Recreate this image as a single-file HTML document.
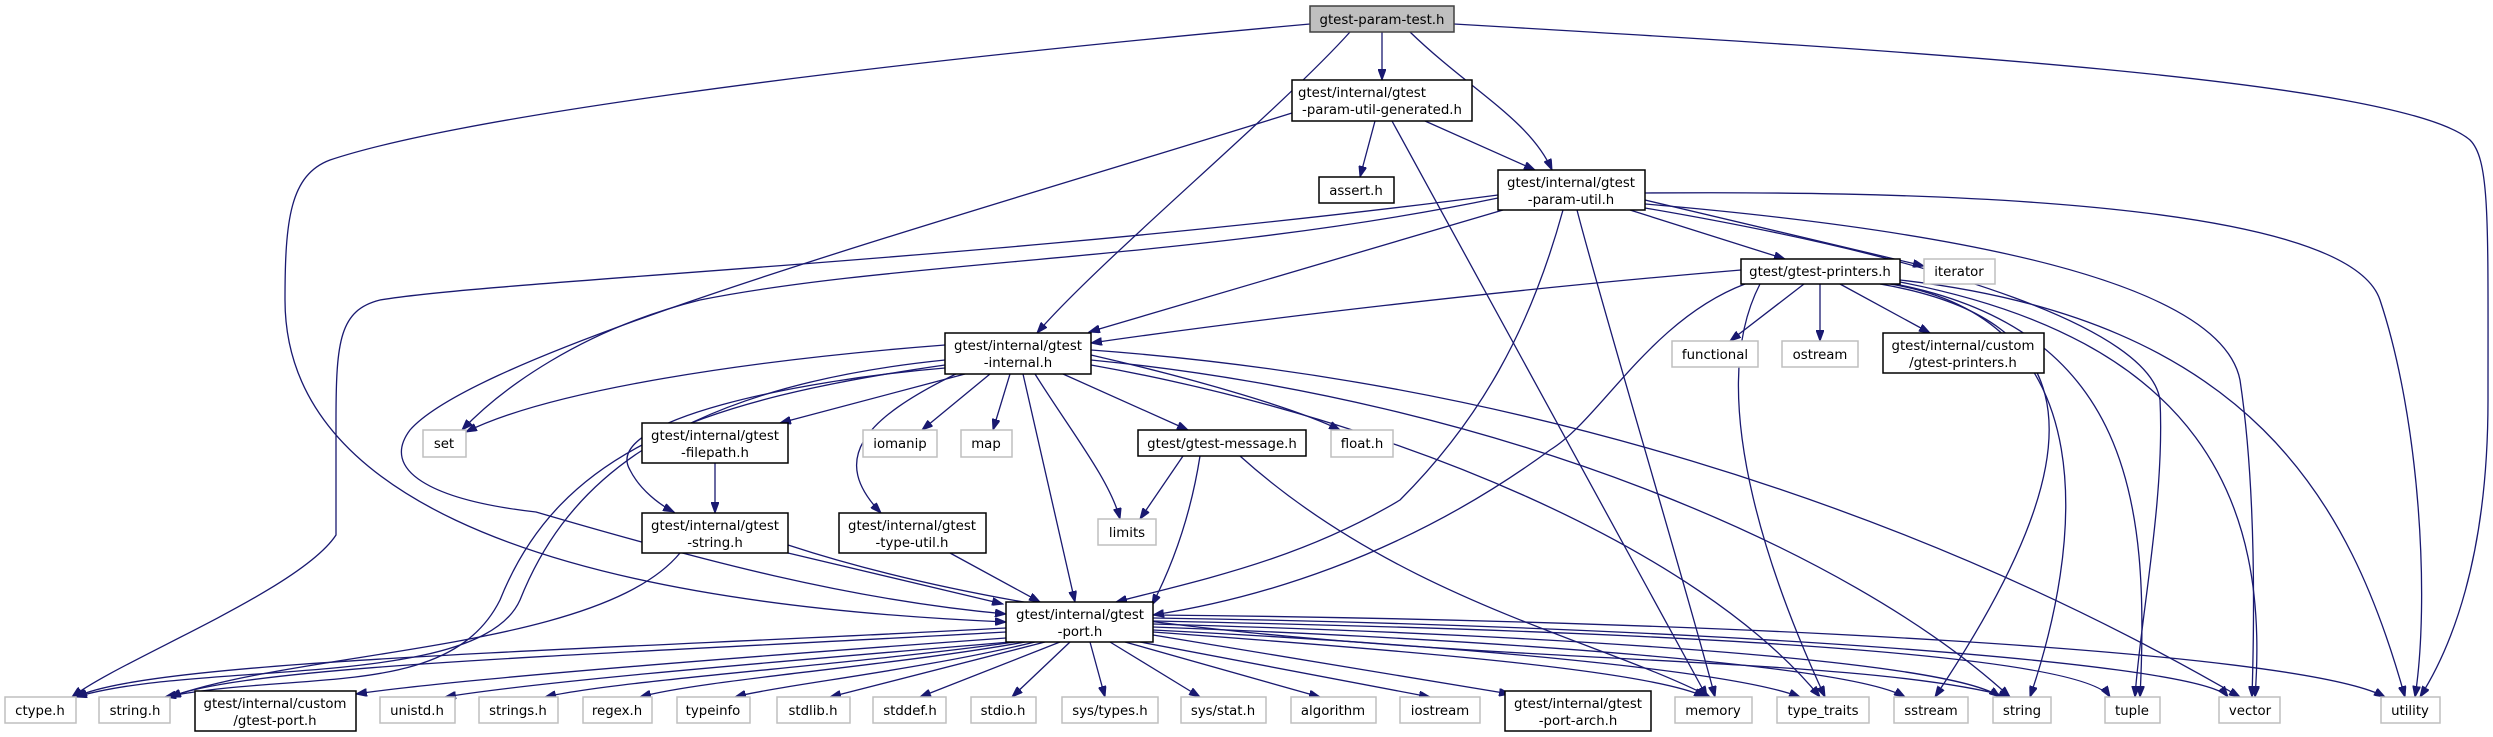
<!DOCTYPE html>
<html><head><meta charset="utf-8"><style>
html,body{margin:0;padding:0;background:#fff;}
svg{display:block;}
text{font-family:"DejaVu Sans","Liberation Sans",sans-serif;font-size:13.3px;fill:#000;text-anchor:middle;}
.e{fill:none;stroke:#191970;stroke-width:1.3;marker-end:url(#a);}
.g{fill:#fff;stroke:#bfbfbf;stroke-width:1.5;}
.b{fill:#fff;stroke:#000;stroke-width:1.5;}
.r{fill:#bfbfbf;stroke:#404040;stroke-width:1.5;}
</style></head><body>
<svg width="2493" height="737" viewBox="0 0 2493 737" xmlns="http://www.w3.org/2000/svg">
<defs><marker id="a" markerUnits="userSpaceOnUse" markerWidth="12" markerHeight="8" refX="11" refY="4" orient="auto"><path d="M0,0 L11,4 L0,8 z" fill="#191970" stroke="#191970"/></marker></defs>
<g>
<path class="e" d="M1382,32 L1382,80"/>
<path class="e" d="M1350,32 C1280,110 1100,260 1037,333"/>
<path class="e" d="M1410,32 C1470,90 1530,120 1552,170"/>
<path class="e" d="M1310,24 C800,70 450,120 330,160 C290,175 285,220 285,300 C285,480 500,600 1006,622"/>
<path class="e" d="M1454,24 C1900,50 2400,80 2470,140 C2490,160 2488,220 2488,400 C2488,560 2450,650 2420,697"/>
<path class="e" d="M1375,121 L1360,177"/>
<path class="e" d="M1425,121 L1535,170"/>
<path class="e" d="M1392,121 L1707,697"/>
<path class="e" d="M1292,113 C950,220 480,350 410,430 C380,470 430,500 536,512 C700,560 850,600 1006,614"/>
<path class="e" d="M1498,195 C1000,260 500,280 380,300 C340,310 336,340 336,420 L336,535 C300,590 120,660 72,697"/>
<path class="e" d="M1498,198 C1200,260 900,260 700,300 C580,330 500,390 462,430"/>
<path class="e" d="M1503,210 L1089,332"/>
<path class="e" d="M1741,270 C1500,290 1250,320 1091,343"/>
<path class="e" d="M1563,210 C1530,330 1480,420 1400,500 C1300,560 1200,580 1116,602"/>
<path class="e" d="M1577,210 C1600,300 1690,600 1715,697"/>
<path class="e" d="M1630,210 L1785,259"/>
<path class="e" d="M1645,200 L1924,266"/>
<path class="e" d="M1645,208 C1950,260 2150,330 2160,400 C2165,500 2140,620 2135,697"/>
<path class="e" d="M1645,204 C1950,230 2220,280 2240,380 C2255,480 2255,600 2252,697"/>
<path class="e" d="M1645,193 C2000,190 2350,210 2380,300 C2420,420 2430,600 2415,697"/>
<path class="e" d="M945,345 C750,360 550,390 466,432"/>
<path class="e" d="M965,374 L780,423"/>
<path class="e" d="M945,368 C800,380 600,420 630,470 C640,490 660,505 674,512"/>
<path class="e" d="M960,372 C860,420 830,460 881,513"/>
<path class="e" d="M990,374 L922,430"/>
<path class="e" d="M1010,374 L993,430"/>
<path class="e" d="M1063,374 L1188,430"/>
<path class="e" d="M1091,355 C1200,380 1300,410 1340,430"/>
<path class="e" d="M1035,374 C1070,430 1110,480 1120,519"/>
<path class="e" d="M1023,374 L1075,602"/>
<path class="e" d="M945,360 C650,390 560,500 520,600 C480,690 200,660 76,697"/>
<path class="e" d="M945,365 C700,400 560,450 500,600 C450,700 300,670 165,697"/>
<path class="e" d="M1091,365 C1400,420 1700,550 1820,697"/>
<path class="e" d="M1091,360 C1500,400 1850,550 2010,697"/>
<path class="e" d="M1091,350 C1500,380 1900,500 2240,697"/>
<path class="e" d="M1183,456 L1140,519"/>
<path class="e" d="M1200,456 C1190,520 1170,570 1152,605"/>
<path class="e" d="M1240,456 C1400,600 1600,640 1710,697"/>
<path class="e" d="M715,463 L715,513"/>
<path class="e" d="M788,553 L1003,604"/>
<path class="e" d="M680,553 C600,650 300,650 170,697"/>
<path class="e" d="M788,545 C1200,680 1800,640 2010,697"/>
<path class="e" d="M950,553 L1040,602"/>
<path class="e" d="M1804,284 L1730,341"/>
<path class="e" d="M1820,284 L1820,341"/>
<path class="e" d="M1840,284 L1930,333"/>
<path class="e" d="M1745,284 C1650,320 1600,420 1550,450 C1400,560 1250,600 1153,615"/>
<path class="e" d="M1760,284 C1700,400 1780,600 1825,697"/>
<path class="e" d="M1880,284 C2090,320 2100,450 1935,697"/>
<path class="e" d="M1890,284 C2110,320 2080,550 2030,697"/>
<path class="e" d="M1895,284 C2130,330 2150,500 2140,697"/>
<path class="e" d="M1900,282 C2200,340 2270,500 2255,697"/>
<path class="e" d="M1900,280 C2250,320 2350,500 2405,697"/>
<path class="e" d="M1006,628 C600,650 150,660 76,697"/>
<path class="e" d="M1006,632 C600,655 250,665 170,697"/>
<path class="e" d="M1006,638 C700,660 450,680 356,694"/>
<path class="e" d="M1010,642 C800,660 550,680 445,697"/>
<path class="e" d="M1015,642 C850,665 620,680 545,697"/>
<path class="e" d="M1025,642 C900,665 700,680 640,697"/>
<path class="e" d="M1035,642 C920,670 780,685 735,697"/>
<path class="e" d="M1045,642 L830,697"/>
<path class="e" d="M1060,642 L920,697"/>
<path class="e" d="M1070,642 L1012,697"/>
<path class="e" d="M1090,642 L1105,697"/>
<path class="e" d="M1110,642 L1200,697"/>
<path class="e" d="M1125,642 L1320,697"/>
<path class="e" d="M1140,642 L1430,697"/>
<path class="e" d="M1153,635 L1510,694"/>
<path class="e" d="M1153,632 C1400,650 1650,670 1705,697"/>
<path class="e" d="M1153,630 C1450,645 1730,670 1800,697"/>
<path class="e" d="M1153,627 C1500,640 1850,665 1905,697"/>
<path class="e" d="M1153,624 C1550,635 1950,660 2000,697"/>
<path class="e" d="M1153,621 C1600,630 2080,650 2110,697"/>
<path class="e" d="M1153,618 C1650,625 2200,660 2228,697"/>
<path class="e" d="M1153,615 C1700,620 2300,650 2385,697"/>
</g>
<g>
<rect class="r" x="1310" y="6" width="144" height="26"/><text x="1382" y="24">gtest-param-test.h</text>
<rect class="b" x="1292" y="80" width="180" height="41"/><text x="1382" y="97" style="text-anchor:start" dx="-84">gtest/internal/gtest</text><text x="1382" y="114">-param-util-generated.h</text>
<rect class="b" x="1319" y="177" width="75" height="26"/><text x="1356" y="195">assert.h</text>
<rect class="b" x="1498" y="170" width="147" height="40"/><text x="1571" y="187">gtest/internal/gtest</text><text x="1571" y="204">-param-util.h</text>
<rect class="b" x="1741" y="259" width="159" height="25"/><text x="1820" y="276">gtest/gtest-printers.h</text>
<rect class="g" x="1924" y="259" width="71" height="25"/><text x="1959" y="276">iterator</text>
<rect class="b" x="945" y="333" width="146" height="41"/><text x="1018" y="350">gtest/internal/gtest</text><text x="1018" y="367">-internal.h</text>
<rect class="g" x="1672" y="341" width="86" height="26"/><text x="1715" y="359">functional</text>
<rect class="g" x="1782" y="341" width="76" height="26"/><text x="1820" y="359">ostream</text>
<rect class="b" x="1883" y="333" width="161" height="40"/><text x="1963" y="350">gtest/internal/custom</text><text x="1963" y="367">/gtest-printers.h</text>
<rect class="g" x="423" y="430" width="43" height="27"/><text x="444" y="448">set</text>
<rect class="b" x="642" y="423" width="146" height="40"/><text x="715" y="440">gtest/internal/gtest</text><text x="715" y="457">-filepath.h</text>
<rect class="g" x="863" y="430" width="74" height="27"/><text x="900" y="448">iomanip</text>
<rect class="g" x="961" y="430" width="51" height="27"/><text x="986" y="448">map</text>
<rect class="b" x="1138" y="430" width="168" height="26"/><text x="1222" y="448">gtest/gtest-message.h</text>
<rect class="g" x="1331" y="430" width="62" height="27"/><text x="1362" y="448">float.h</text>
<rect class="b" x="642" y="513" width="146" height="40"/><text x="715" y="530">gtest/internal/gtest</text><text x="715" y="547">-string.h</text>
<rect class="b" x="839" y="513" width="147" height="40"/><text x="912" y="530">gtest/internal/gtest</text><text x="912" y="547">-type-util.h</text>
<rect class="g" x="1098" y="519" width="58" height="26"/><text x="1127" y="537">limits</text>
<rect class="b" x="1006" y="602" width="147" height="40"/><text x="1080" y="619">gtest/internal/gtest</text><text x="1080" y="636">-port.h</text>
<rect class="g" x="5" y="697" width="71" height="26"/><text x="40" y="715">ctype.h</text>
<rect class="g" x="99" y="697" width="71" height="26"/><text x="135" y="715">string.h</text>
<rect class="b" x="195" y="691" width="161" height="40"/><text x="275" y="708">gtest/internal/custom</text><text x="275" y="725">/gtest-port.h</text>
<rect class="g" x="380" y="697" width="75" height="26"/><text x="417" y="715">unistd.h</text>
<rect class="g" x="479" y="697" width="79" height="26"/><text x="518" y="715">strings.h</text>
<rect class="g" x="583" y="697" width="69" height="26"/><text x="617" y="715">regex.h</text>
<rect class="g" x="677" y="697" width="73" height="26"/><text x="713" y="715">typeinfo</text>
<rect class="g" x="777" y="697" width="73" height="26"/><text x="813" y="715">stdlib.h</text>
<rect class="g" x="873" y="697" width="73" height="26"/><text x="910" y="715">stddef.h</text>
<rect class="g" x="971" y="697" width="65" height="26"/><text x="1003" y="715">stdio.h</text>
<rect class="g" x="1062" y="697" width="96" height="26"/><text x="1110" y="715">sys/types.h</text>
<rect class="g" x="1181" y="697" width="85" height="26"/><text x="1223" y="715">sys/stat.h</text>
<rect class="g" x="1291" y="697" width="85" height="26"/><text x="1333" y="715">algorithm</text>
<rect class="g" x="1400" y="697" width="80" height="26"/><text x="1440" y="715">iostream</text>
<rect class="b" x="1505" y="691" width="146" height="40"/><text x="1578" y="708">gtest/internal/gtest</text><text x="1578" y="725">-port-arch.h</text>
<rect class="g" x="1675" y="697" width="77" height="26"/><text x="1713" y="715">memory</text>
<rect class="g" x="1777" y="697" width="92" height="26"/><text x="1823" y="715">type_traits</text>
<rect class="g" x="1894" y="697" width="74" height="26"/><text x="1931" y="715">sstream</text>
<rect class="g" x="1993" y="697" width="58" height="26"/><text x="2022" y="715">string</text>
<rect class="g" x="2105" y="697" width="55" height="26"/><text x="2132" y="715">tuple</text>
<rect class="g" x="2219" y="697" width="61" height="26"/><text x="2250" y="715">vector</text>
<rect class="g" x="2381" y="697" width="59" height="26"/><text x="2410" y="715">utility</text>
</g>
</svg>
</body></html>
